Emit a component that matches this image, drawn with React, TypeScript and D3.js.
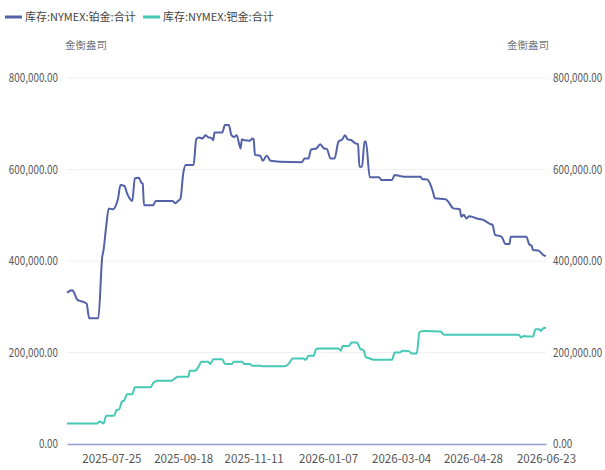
import React, { useEffect, useRef } from "react";
import * as d3 from "d3";

// 库存:NYMEX:铂金:合计 (金衡盎司)
const platinumDates = [
  "2025-06-21", "2025-06-25", "2025-06-26", "2025-06-29", "2025-07-02", "2025-07-06",
  "2025-07-08", "2025-07-15", "2025-07-18", "2025-07-19", "2025-07-21", "2025-07-23",
  "2025-07-26", "2025-07-30", "2025-08-01", "2025-08-04", "2025-08-06", "2025-08-09",
  "2025-08-10", "2025-08-12", "2025-08-15", "2025-08-17", "2025-08-18", "2025-08-19",
  "2025-08-26", "2025-08-28", "2025-09-10", "2025-09-12", "2025-09-14", "2025-09-16",
  "2025-09-18", "2025-09-20", "2025-09-26", "2025-09-28", "2025-09-30", "2025-10-03",
  "2025-10-05", "2025-10-07", "2025-10-10", "2025-10-11", "2025-10-12", "2025-10-18",
  "2025-10-20", "2025-10-23", "2025-10-25", "2025-10-27", "2025-10-29", "2025-11-01",
  "2025-11-02", "2025-11-04", "2025-11-08", "2025-11-10", "2025-11-11", "2025-11-12",
  "2025-11-16", "2025-11-18", "2025-11-21", "2025-11-24", "2025-12-01", "2025-12-18",
  "2025-12-20", "2025-12-23", "2025-12-25", "2025-12-29", "2026-01-01", "2026-01-04",
  "2026-01-06", "2026-01-09", "2026-01-12", "2026-01-15", "2026-01-18", "2026-01-20",
  "2026-01-22", "2026-01-25", "2026-01-28", "2026-01-30", "2026-01-31", "2026-02-02",
  "2026-02-04", "2026-02-05", "2026-02-08", "2026-02-15", "2026-02-17", "2026-02-25",
  "2026-02-27", "2026-03-03", "2026-03-07", "2026-03-19", "2026-03-20", "2026-03-24",
  "2026-03-28", "2026-03-30", "2026-04-07", "2026-04-09", "2026-04-13", "2026-04-18",
  "2026-04-19", "2026-04-21", "2026-04-23", "2026-04-25", "2026-05-01", "2026-05-06",
  "2026-05-11", "2026-05-13", "2026-05-15", "2026-05-20", "2026-05-23", "2026-05-26",
  "2026-05-27", "2026-06-08", "2026-06-10", "2026-06-12", "2026-06-13", "2026-06-17",
  "2026-06-21", "2026-06-23",
];
const platinumValues = [
  331000, 336000, 333000, 315000, 312000, 307000,
  275000, 275000, 409000, 424000, 475000, 515000,
  513000, 535000, 566000, 564000, 548000, 533000,
  531000, 581000, 582000, 571000, 569000, 522000,
  522000, 531000, 531000, 526000, 531000, 537000,
  590000, 610000, 610000, 666000, 670000, 668000,
  675000, 671000, 668000, 664000, 681000, 681000,
  697000, 697000, 675000, 671000, 675000, 646000,
  666000, 664000, 663000, 668000, 666000, 632000,
  630000, 619000, 630000, 619000, 617000, 616000,
  624000, 624000, 644000, 646000, 655000, 646000,
  645000, 624000, 624000, 661000, 666000, 675000,
  666000, 664000, 657000, 656000, 606000, 606000,
  661000, 661000, 583000, 583000, 577000, 577000,
  588000, 586000, 584000, 584000, 579000, 578000,
  555000, 537000, 535000, 530000, 515000, 513000,
  497000, 501000, 493000, 498000, 493000, 490000,
  481000, 479000, 457000, 453000, 437000, 437000,
  453000, 453000, 437000, 433000, 424000, 423000,
  413000, 411000,
];

// 库存:NYMEX:钯金:合计 (金衡盎司)
const palladiumDates = [
  "2025-06-21", "2025-07-14", "2025-07-16", "2025-07-19", "2025-07-21", "2025-07-27",
  "2025-07-29", "2025-07-31", "2025-08-02", "2025-08-04", "2025-08-06", "2025-08-10",
  "2025-08-12", "2025-08-24", "2025-08-26", "2025-08-29", "2025-09-09", "2025-09-12",
  "2025-09-14", "2025-09-22", "2025-09-23", "2025-09-27", "2025-09-30", "2025-10-02",
  "2025-10-07", "2025-10-09", "2025-10-11", "2025-10-18", "2025-10-20", "2025-10-25",
  "2025-10-27", "2025-11-02", "2025-11-04", "2025-11-08", "2025-11-10", "2025-11-16",
  "2025-11-18", "2025-12-05", "2025-12-08", "2025-12-11", "2025-12-19", "2025-12-21",
  "2025-12-23", "2025-12-27", "2025-12-29", "2026-01-01", "2026-01-15", "2026-01-17",
  "2026-01-18", "2026-01-23", "2026-01-25", "2026-01-29", "2026-02-01", "2026-02-03",
  "2026-02-05", "2026-02-08", "2026-02-11", "2026-02-25", "2026-02-27", "2026-03-03",
  "2026-03-05", "2026-03-10", "2026-03-12", "2026-03-16", "2026-03-18", "2026-03-21",
  "2026-04-03", "2026-04-06", "2026-06-02", "2026-06-04", "2026-06-06", "2026-06-09",
  "2026-06-13", "2026-06-15", "2026-06-18", "2026-06-19", "2026-06-21", "2026-06-23",
];
const palladiumValues = [
  45000, 45000, 49000, 45000, 62000, 62000,
  74000, 76000, 92000, 96000, 109000, 109000,
  124000, 124000, 133000, 138000, 138000, 144000,
  147000, 147000, 160000, 160000, 170000, 180000,
  180000, 175000, 185000, 185000, 175000, 175000,
  180000, 180000, 175000, 175000, 171000, 171000,
  170000, 170000, 176000, 187000, 187000, 184000,
  193000, 193000, 208000, 209000, 209000, 204000,
  214000, 214000, 222000, 222000, 207000, 206000,
  190000, 187000, 184000, 184000, 200000, 200000,
  204000, 203000, 198000, 198000, 244000, 247000,
  246000, 239000, 239000, 233000, 236000, 235000,
  235000, 251000, 251000, 247000, 253000, 254000,
];

const xTickLabels = [
  "2025-07-25", "2025-09-18", "2025-11-11", "2026-01-07",
  "2026-03-04", "2026-04-28", "2026-06-23",
];
const yTicks = [0, 200000, 400000, 600000, 800000];

const seriesNames = ["库存:NYMEX:铂金:合计", "库存:NYMEX:钯金:合计"];
const seriesColors = ["#5361a8", "#45c8b5"];
const unitLabel = "金衡盎司";

const FONT = "'Noto Sans CJK SC', sans-serif";

const App = () => {
  const chartRef = useRef<SVGSVGElement>(null);

  useEffect(() => {
    const width = 605;
    const height = 470;
    const margin = { top: 78, right: 59, bottom: 26, left: 67 };

    const svg = d3.select(chartRef.current);
    svg.selectAll("*").remove();
    svg.attr("width", width).attr("height", height);

    const parse = d3.timeParse("%Y-%m-%d");
    const fmt = d3.format(",.2f");

    const x = d3
      .scaleTime()
      .domain([parse(platinumDates[0])!, parse(platinumDates[platinumDates.length - 1])!])
      .range([margin.left, width - margin.right]);

    const y = d3
      .scaleLinear()
      .domain([0, 800000])
      .range([height - margin.bottom, margin.top]);

    // grid
    svg
      .append("g")
      .selectAll("line")
      .data(yTicks.filter((d) => d > 0))
      .enter()
      .append("line")
      .attr("x1", margin.left)
      .attr("x2", width - margin.right)
      .attr("y1", (d) => y(d))
      .attr("y2", (d) => y(d))
      .attr("stroke", "#eef0f6")
      .attr("stroke-width", 1);

    // left / right y labels (condensed like the original)
    const sideX = [margin.left - 9, width - margin.right + 7];
    const anchors = ["end", "start"];
    sideX.forEach((sx, k) => {
      svg
        .append("g")
        .selectAll("text")
        .data(yTicks)
        .enter()
        .append("text")
        .attr("transform", (d) => `translate(${sx},${y(d)}) scale(0.82,1)`)
        .attr("dy", "0.35em")
        .attr("text-anchor", anchors[k])
        .attr("font-family", FONT)
        .attr("font-size", 12)
        .attr("fill", "#555")
        .text((d) => fmt(d));
    });

    // units
    [86, 528].forEach((ux) => {
      svg
        .append("text")
        .attr("x", ux)
        .attr("y", 49)
        .attr("text-anchor", "middle")
        .attr("font-family", FONT)
        .attr("font-size", 10.5)
        .attr("fill", "#777")
        .text(unitLabel);
    });

    // x axis
    const xAxis = svg
      .append("g")
      .attr("transform", `translate(0,${height - margin.bottom})`)
      .call(
        d3
          .axisBottom(x)
          .tickValues(xTickLabels.map((d) => parse(d)!))
          .tickFormat((d) => d3.timeFormat("%Y-%m-%d")(d as Date))
          .tickSize(0)
          .tickPadding(11)
      );
    xAxis.select(".domain").attr("stroke", "#939cce").attr("stroke-width", 1.6);
    xAxis
      .selectAll("text")
      .attr("font-family", FONT)
      .attr("font-size", 11.5)
      .attr("fill", "#555");

    // lines
    const series = [
      { dates: platinumDates, values: platinumValues },
      { dates: palladiumDates, values: palladiumValues },
    ];

    const line = d3
      .line<[Date, number]>()
      .x((d) => x(d[0]))
      .y((d) => y(d[1]))
      .curve(d3.curveMonotoneX);

    series.forEach((s, i) => {
      const pts: [Date, number][] = s.dates.map((d, j) => [parse(d)!, s.values[j]]);
      svg
        .append("path")
        .datum(pts)
        .attr("fill", "none")
        .attr("stroke", seriesColors[i])
        .attr("stroke-width", 2)
        .attr("stroke-linejoin", "round")
        .attr("d", line);
    });

    // legend
    const legendX = [5, 143];
    seriesNames.forEach((name, i) => {
      svg
        .append("line")
        .attr("x1", legendX[i])
        .attr("x2", legendX[i] + 17)
        .attr("y1", 17)
        .attr("y2", 17)
        .attr("stroke", seriesColors[i])
        .attr("stroke-width", 3);
      svg
        .append("text")
        .attr("x", legendX[i] + 20)
        .attr("y", 17)
        .attr("dy", "0.35em")
        .attr("font-family", FONT)
        .attr("font-size", 11)
        .attr("fill", "#444")
        .text(name);
    });
  }, []);

  return (
    <div style={{ position: "absolute", left: 0, top: 0 }}>
      <svg ref={chartRef}></svg>
    </div>
  );
};

export default App;
